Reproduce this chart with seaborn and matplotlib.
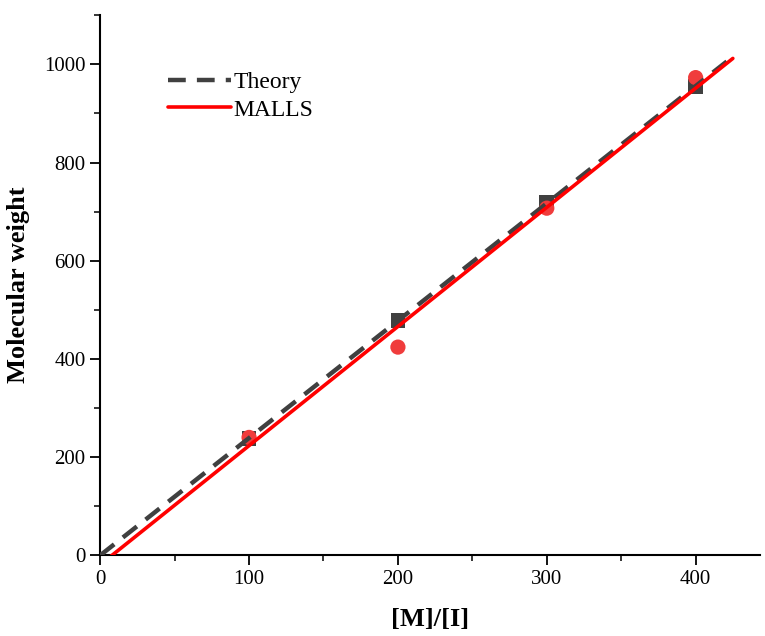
import numpy as np
import pandas as pd
import matplotlib
matplotlib.use("Agg")
import matplotlib.pyplot as plt
from matplotlib.ticker import AutoMinorLocator
import seaborn as sns

# data
ratio = [100, 200, 300, 400]
mw_theory = [238, 478, 718, 955]
mw_malls = [240, 424, 707, 973]
line_x = [0, 425]
malls_fit = [2.427, -19.4]   # slope, intercept of the drawn MALLS line

sns.set_style("ticks")
plt.rcParams['font.family'] = ['Liberation Serif', 'DejaVu Serif']
plt.rcParams['text.color'] = 'black'

df = pd.DataFrame({'ratio': ratio, 'theory': mw_theory, 'malls': mw_malls})

# theory line goes through origin
k_th = np.polyfit([0] + ratio, [0] + mw_theory, 1)
lines = pd.DataFrame({'x': line_x,
                      'theory': np.polyval(k_th, line_x),
                      'malls': np.polyval(malls_fit, line_x)})

fig = plt.figure(figsize=(7.65, 6.36), dpi=100)
ax = fig.add_axes([0.131, 0.127, 0.862, 0.849])

sns.scatterplot(data=df, x='ratio', y='theory', marker='s', s=110,
                color='#404040', edgecolor='none', ax=ax, zorder=2)
sns.scatterplot(data=df, x='ratio', y='malls', marker='o', s=120,
                color='#f03c3c', edgecolor='none', ax=ax, zorder=3)
sns.lineplot(data=lines, x='x', y='theory', color='#404040', lw=3.2,
             ax=ax, zorder=4, label='Theory')
ax.lines[-1].set_linestyle((0, (4, 2.5)))
sns.lineplot(data=lines, x='x', y='malls', color='#ff0000', lw=2.6,
             ax=ax, zorder=5, label='MALLS')

ax.set_xlim(0, 443)
ax.set_ylim(0, 1100)
ax.set_xticks([0, 100, 200, 300, 400])
ax.set_yticks([0, 200, 400, 600, 800, 1000])
ax.xaxis.set_minor_locator(AutoMinorLocator(2))
ax.yaxis.set_minor_locator(AutoMinorLocator(2))
ax.tick_params(which='major', direction='out', length=7, width=1.3,
               labelsize=15, colors='black')
ax.tick_params(which='minor', direction='out', length=4, width=1.3)
for s in ['top', 'right']:
    ax.spines[s].set_visible(False)
for s in ['left', 'bottom']:
    ax.spines[s].set_linewidth(1.5)
    ax.spines[s].set_color('black')

ax.set_xlabel('[M]/[I]', fontsize=19, fontweight='bold', labelpad=14,
              color='black')
ax.set_ylabel('Molecular weight', fontsize=19, fontweight='bold', labelpad=10,
              color='black')

leg = ax.legend(loc='upper left', bbox_to_anchor=(0.07, 0.935), frameon=False,
                fontsize=17, handlelength=2.7, handletextpad=0.1,
                labelspacing=0.25)

fig.savefig('out.png', dpi=100)
